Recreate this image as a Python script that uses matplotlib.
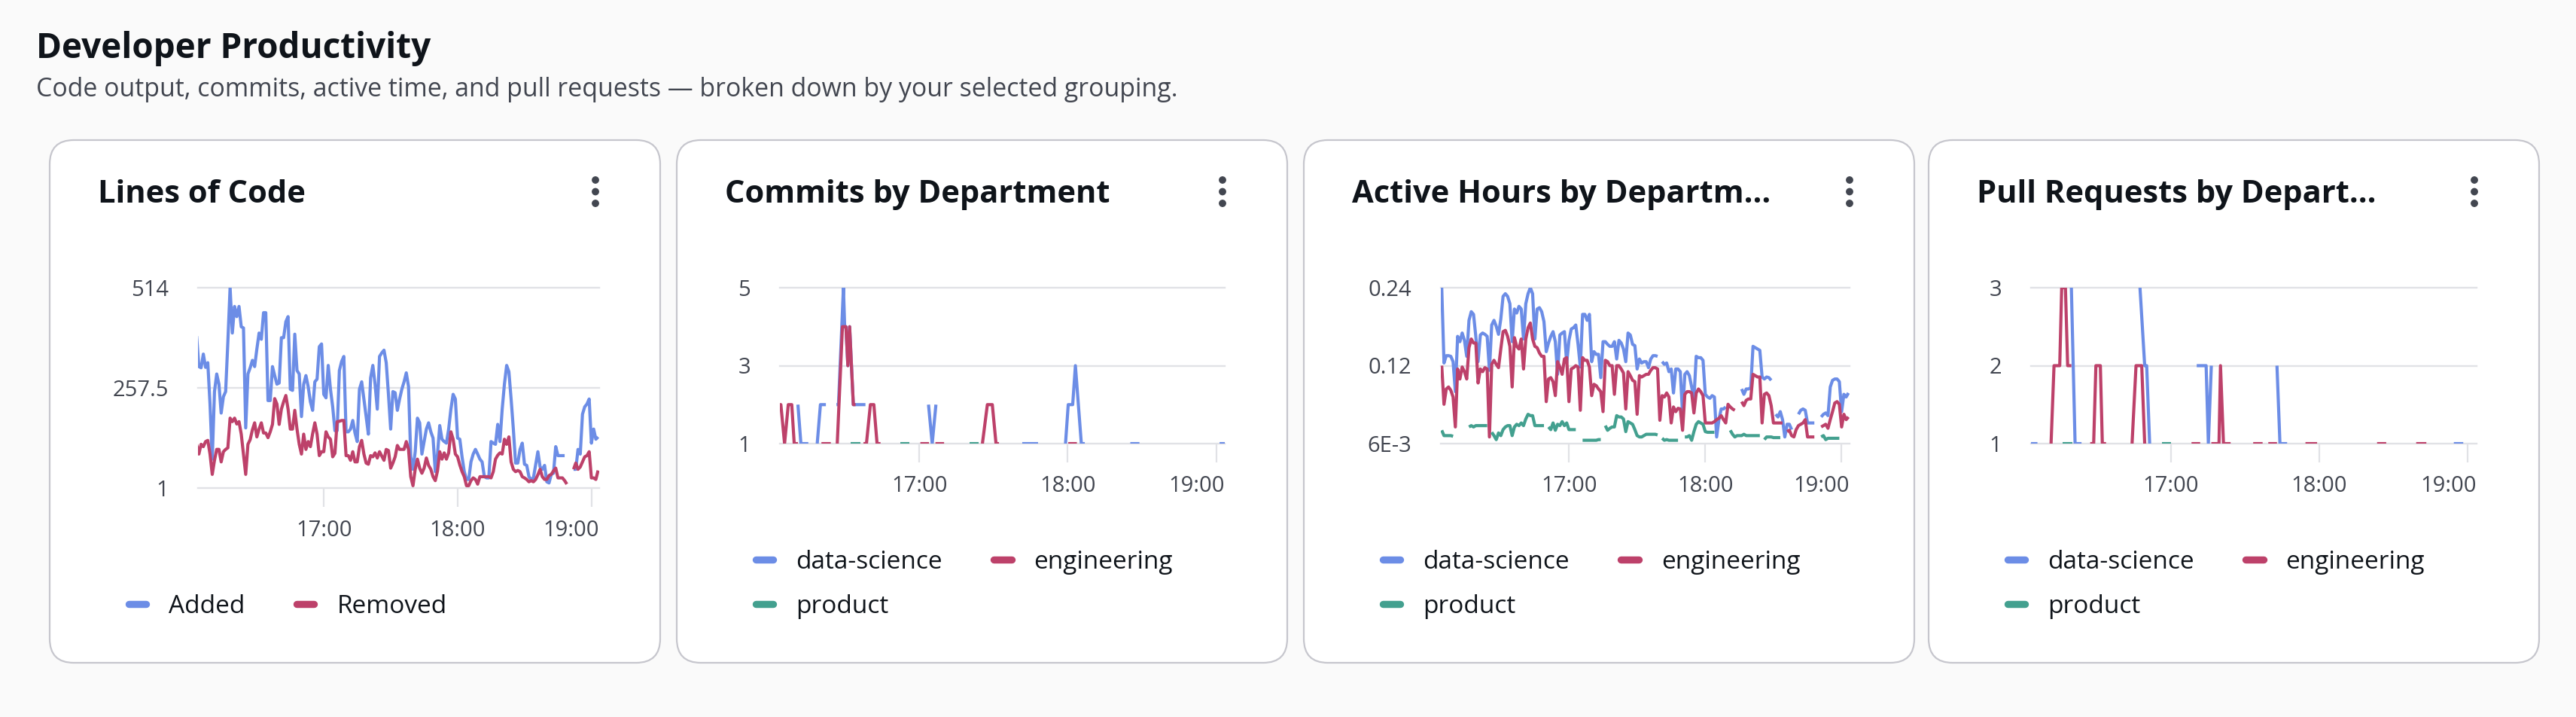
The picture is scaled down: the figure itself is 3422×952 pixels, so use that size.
import numpy as np
import pandas as pd
import matplotlib
matplotlib.use('Agg')
import matplotlib.pyplot as plt
import matplotlib.dates as mdates
from matplotlib.lines import Line2D
from matplotlib.patches import FancyBboxPatch, Circle

nan = np.nan

# ---------------- data (time = minutes after 16:00) ----------------
loc_minutes = list(range(3, 184))
loc_added = [
    390, 312, 309, 344, 310, 322, 216, 75, 248, 293,
    267, 193, 235, 248, 376, 514, 398, 466, 440, 466,
    414, 411, 155, 293, 309, 328, 312, 357, 398, 382,
    450, 450, 225, 225, 312, 289, 267, 270, 386, 386,
    427, 440, 254, 251, 395, 302, 293, 184, 267, 289,
    261, 222, 200, 273, 280, 363, 370, 241, 232, 315,
    254, 209, 148, 148, 302, 325, 338, 145, 145, 152,
    174, 142, 120, 254, 273, 229, 184, 139, 283, 315,
    267, 203, 338, 347, 354, 322, 241, 152, 248, 245,
    200, 229, 254, 273, 296, 261, 81, 49, 94, 180,
    168, 88, 120, 152, 168, 145, 129, 43, 88, 161,
    126, 120, 116, 152, 203, 241, 229, 129, 126, 81,
    43, 23, 23, 68, 88, 100, 88, 75, 68, 30,
    27, 27, 120, 116, 113, 164, 120, 203, 267, 315,
    299, 229, 152, 65, 65, 100, 116, 62, 59, 30,
    23, 27, 60, 94, 55, 49, 59, 17, 14, 36,
    39, 107, 84, 84, 84, 84, nan, nan, nan, 49,
    49, 100, 88, 190, 209, 216, 229, 116, 152, 126,
    132]
loc_removed = [
    113, 88, 113, 107, 120, 123, 88, 36, 72, 100,
    100, 68, 94, 100, 104, 180, 171, 180, 165, 171,
    139, 88, 36, 113, 125, 150, 168, 132, 152, 168,
    142, 142, 130, 145, 164, 230, 216, 164, 203, 222,
    238, 203, 152, 152, 200, 152, 113, 88, 139, 100,
    120, 107, 140, 168, 139, 84, 94, 94, 145, 132,
    126, 81, 90, 171, 172, 174, 174, 84, 84, 72,
    94, 68, 68, 107, 123, 88, 65, 62, 84, 81,
    91, 78, 94, 83, 72, 100, 97, 52, 65, 81,
    110, 100, 100, 100, 120, 100, 30, 7, 49, 75,
    52, 39, 52, 78, 59, 49, 30, 20, 45, 94,
    75, 91, 75, 91, 145, 126, 88, 81, 60, 43,
    30, 7, 7, 20, 27, 23, 11, 30, 30, 30,
    30, 30, 27, 43, 75, 85, 91, 88, 126, 113,
    132, 68, 49, 43, 46, 43, 30, 27, 23, 17,
    20, 17, 23, 35, 49, 30, 23, 23, 33, 36,
    45, 52, 27, 27, 27, 20, 11, nan, nan, 49,
    65, 49, 55, 68, 81, 84, 94, 27, 27, 23,
    46]

active_minutes = list(range(4, 184))
active_data_science = [
    0.240, 0.127, 0.138, 0.138, 0.137, 0.129, 0.084, 0.167, 0.159, 0.172,
    0.161, 0.137, 0.191, 0.204, 0.200, 0.167, 0.129, 0.169, 0.172, 0.170,
    0.167, 0.116, 0.184, 0.191, 0.182, 0.170, 0.193, 0.227, 0.231, 0.227,
    0.216, 0.159, 0.208, 0.202, 0.212, 0.208, 0.163, 0.216, 0.231, 0.240,
    0.231, 0.163, 0.208, 0.210, 0.204, 0.189, 0.144, 0.157, 0.167, 0.174,
    0.159, 0.110, 0.169, 0.172, 0.174, 0.127, 0.161, 0.178, 0.180, 0.184,
    0.155, 0.121, 0.200, 0.200, 0.191, 0.200, 0.129, 0.144, 0.140, 0.140,
    0.105, 0.159, 0.159, 0.155, 0.152, 0.152, 0.159, 0.133, 0.161, 0.157,
    0.148, 0.129, 0.172, 0.169, 0.155, 0.153, 0.118, 0.133, 0.127, 0.129,
    0.129, 0.120, 0.133, 0.138, 0.138, 0.137, nan, 0.129, 0.125, 0.127,
    0.114, 0.118, 0.082, 0.118, 0.118, 0.114, 0.050, 0.110, 0.114, 0.108,
    0.091, 0.073, 0.137, 0.135, 0.135, 0.131, 0.080, 0.076, 0.074, 0.078,
    0.076, 0.016, 0.042, 0.058, 0.058, 0.061, nan, nan, nan, nan,
    nan, nan, 0.088, 0.080, 0.088, 0.088, 0.090, 0.152, 0.150, 0.148,
    0.146, 0.106, 0.103, 0.106, 0.105, 0.101, nan, 0.050, 0.046, 0.054,
    0.042, 0.016, 0.035, 0.035, 0.027, nan, nan, 0.050, 0.056, 0.058,
    0.056, 0.037, 0.037, 0.037, 0.037, nan, nan, 0.046, 0.050, 0.052,
    0.048, 0.091, 0.101, 0.103, 0.103, 0.099, 0.054, 0.080, 0.076, 0.082]
active_engineering = [
    0.123, 0.065, 0.088, 0.091, 0.086, 0.076, 0.031, 0.118, 0.103, 0.121,
    0.114, 0.103, 0.150, 0.163, 0.157, 0.157, 0.097, 0.118, 0.114, 0.120,
    0.118, 0.016, 0.125, 0.131, 0.125, 0.120, 0.148, 0.174, 0.176, 0.167,
    0.152, 0.091, 0.165, 0.152, 0.148, 0.163, 0.118, 0.163, 0.180, 0.187,
    0.163, 0.152, 0.150, 0.142, 0.137, 0.137, 0.069, 0.103, 0.105, 0.099,
    0.078, 0.129, 0.121, 0.110, 0.133, 0.135, 0.069, 0.118, 0.120, 0.123,
    0.121, 0.056, 0.135, 0.131, 0.131, 0.121, 0.078, 0.095, 0.093, 0.088,
    0.084, 0.054, 0.131, 0.129, 0.123, 0.123, 0.080, 0.123, 0.123, 0.118,
    0.112, 0.058, 0.114, 0.108, 0.101, 0.099, 0.050, 0.108, 0.106, 0.108,
    0.110, 0.110, 0.116, 0.120, 0.120, 0.118, 0.041, 0.078, 0.076, 0.082,
    0.076, 0.037, 0.061, 0.054, 0.059, 0.058, 0.026, 0.080, 0.084, 0.084,
    0.082, 0.052, 0.082, 0.088, 0.084, 0.078, 0.037, 0.037, 0.037, 0.037,
    0.039, 0.042, 0.044, 0.048, 0.042, 0.037, 0.065, 0.061, 0.058, 0.056,
    nan, nan, 0.069, 0.063, 0.071, 0.073, 0.073, 0.110, 0.108, 0.106,
    0.106, 0.037, 0.080, 0.082, 0.078, 0.063, 0.037, 0.037, 0.037, 0.037,
    0.037, nan, 0.024, 0.026, 0.018, 0.016, 0.027, 0.033, 0.035, 0.037,
    0.042, 0.016, 0.016, 0.016, 0.016, nan, nan, 0.031, 0.033, 0.035,
    0.029, 0.042, 0.054, 0.067, 0.069, 0.065, 0.031, 0.050, 0.042, 0.046]
active_product = [
    0.026, 0.018, 0.018, 0.018, 0.018, 0.017, nan, nan, nan, nan,
    nan, nan, 0.031, 0.033, 0.031, 0.033, 0.033, 0.033, 0.033, 0.033,
    0.033, nan, 0.023, 0.018, 0.012, 0.022, 0.018, 0.027, 0.031, 0.033,
    0.033, 0.018, 0.031, 0.035, 0.033, 0.037, 0.033, 0.043, 0.050, 0.048,
    0.048, 0.033, 0.033, 0.033, 0.033, 0.033, nan, 0.031, 0.027, 0.037,
    0.026, 0.035, 0.033, 0.039, 0.033, 0.037, 0.027, 0.027, 0.027, 0.027,
    nan, nan, 0.011, 0.011, 0.011, 0.011, 0.011, 0.011, 0.011, 0.012,
    0.012, nan, 0.033, 0.026, 0.029, 0.031, 0.031, 0.048, 0.046, 0.046,
    0.043, 0.024, 0.039, 0.037, 0.035, 0.027, 0.018, 0.016, 0.016, 0.018,
    0.020, 0.020, 0.020, 0.020, 0.020, 0.019, nan, 0.014, 0.011, 0.012,
    0.011, 0.011, 0.011, 0.011, 0.011, nan, nan, 0.016, 0.016, 0.018,
    0.011, 0.024, 0.035, 0.039, 0.037, 0.035, 0.024, 0.023, 0.023, 0.023,
    0.023, nan, nan, nan, nan, nan, nan, 0.026, 0.020, 0.016,
    0.018, 0.018, 0.018, 0.020, 0.018, 0.018, 0.018, 0.018, 0.018, 0.018,
    0.018, nan, 0.012, 0.016, 0.016, 0.016, 0.015, 0.015, 0.015, 0.015,
    nan, nan, nan, nan, nan, nan, nan, nan, nan, nan,
    nan, nan, nan, nan, nan, nan, nan, 0.016, 0.018, 0.012,
    0.014, 0.014, 0.014, 0.014, 0.014, 0.014, nan, nan, nan, nan]

# sparse series: runs of (minute, value)
commits_data_science = [
    [(10.9, 2), (12.1, 1), (15.1, 1)],
    [(18.7, 1), (20.0, 2), (22.2, 2)],
    [(26.5, 2), (27.3, 2), (29.3, 5), (29.8, 4), (30.3, 4), (31.1, 3),
     (31.8, 4), (33.3, 2), (38.2, 2)],
    [(63.7, 2), (65.2, 1), (66.7, 2)],
    [(101.6, 1), (108.0, 1)],
    [(119.1, 1), (120.2, 2), (122.0, 2), (123.1, 3), (125.5, 1), (126.9, 1)],
    [(145.3, 1), (149.0, 1)],
    [(181.4, 1), (183.5, 1)],
]
commits_engineering = [
    [(3.5, 2), (4.0, 2), (5.5, 1), (7.0, 2), (8.4, 2), (9.4, 1), (10.9, 1)],
    [(20.4, 1), (24.2, 1)],
    [(26.8, 1), (28.9, 4), (30.3, 4), (31.1, 3), (31.8, 4), (33.3, 2), (34.2, 2)],
    [(37.4, 1), (38.6, 1), (40.2, 2), (41.6, 2), (42.9, 1), (44.3, 1)],
    [(60.4, 1), (63.9, 1)],
    [(66.5, 1), (70.0, 1)],
    [(85.5, 1), (87.5, 2), (89.5, 2), (91.0, 1), (92.2, 1)],
    [(120.2, 1), (123.7, 1)],
]
commits_product = [
    [(32.3, 1), (36.2, 1)],
    [(52.3, 1), (56.1, 1)],
    [(80.4, 1), (84.1, 1)],
]

prs_data_science = [
    [(3.5, 1), (6.2, 1)],
    [(19.9, 3), (21.4, 1), (24.0, 1)],
    [(47.6, 3), (49.5, 2), (50.3, 2), (51.5, 1)],
    [(70.5, 2), (74.3, 2), (75.2, 1), (76.4, 2)],
    [(102.9, 2), (104.1, 1), (107.0, 1)],
    [(174.3, 1), (178.1, 1)],
]
prs_engineering = [
    [(11.7, 1), (12.9, 2), (15.2, 2), (16.0, 3), (17.5, 3), (18.4, 2), (19.9, 2)],
    [(27.5, 1), (28.9, 1), (29.8, 2), (31.6, 2), (32.4, 1), (33.9, 1)],
    [(44.4, 1), (46.0, 2), (48.3, 2), (49.5, 1)],
    [(68.4, 1), (71.9, 1)],
    [(76.4, 1), (79.5, 1), (80.1, 2), (81.3, 1), (84.2, 1)],
    [(93.3, 1), (97.1, 1)],
    [(99.4, 1), (102.9, 1)],
    [(114.4, 1), (119.1, 1)],
    [(143.3, 1), (147.0, 1)],
    [(159.1, 1), (163.2, 1)],
]
prs_product = [
    [(16.4, 1), (20.2, 1)],
    [(56.5, 1), (60.0, 1)],
]

hour_minutes = [60, 120, 180]
hour_labels = ['17:00', '18:00', '19:00']
x_range = [3.6, 183.5]

# ---------------- style ----------------
W, H, DPI = 3422, 952, 100
PAGE = '#fafafa'
INK = '#0f141a'
SUB = '#424650'
GRID = '#e1e2e6'
BORDER = '#c6c6cd'
BLUE, RED, TEAL = '#6c8de6', '#bd416a', '#43a08f'

plt.rcParams['font.family'] = ['Open Sans', 'DejaVu Sans']

base = pd.Timestamp('2024-05-14 16:00')


def when(minutes):
    return (base + pd.to_timedelta(np.asarray(minutes, dtype=float), unit='min')).to_numpy()


def join(runs):
    t, v = [], []
    for run in runs:
        for a, b in run:
            t.append(a)
            v.append(b)
        t.append(run[-1][0])
        v.append(nan)
    return t, v


fig = plt.figure(figsize=(W / DPI, H / DPI), dpi=DPI)
fig.patch.set_facecolor(PAGE)

fig.text(48 / W, 1 - 77 / H, 'Developer Productivity', fontsize=33,
         fontweight='bold', color=INK, va='baseline')
fig.text(48 / W, 1 - 128 / H,
         'Code output, commits, active time, and pull requests \u2014 broken down by your selected grouping.',
         fontsize=24.4, color=SUB, va='baseline')

card_left = [66, 899, 1732, 2562]
card_w, card_top, card_bottom = 811, 186, 880
card_titles = ['Lines of Code', 'Commits by Department',
               'Active Hours by Departm\u2026', 'Pull Requests by Depart\u2026']

for cx, title in zip(card_left, card_titles):
    card = FancyBboxPatch((cx / DPI, (H - card_bottom) / DPI), card_w / DPI,
                          (card_bottom - card_top) / DPI,
                          boxstyle='round,pad=0,rounding_size=0.32',
                          transform=fig.dpi_scale_trans, facecolor='white',
                          edgecolor=BORDER, linewidth=1.6, zorder=-5)
    fig.add_artist(card)
    fig.text((cx + 64) / W, 1 - 269 / H, title, fontsize=30, fontweight='bold',
             color=INK, va='baseline')
    for dy in (239, 254.5, 270):
        fig.add_artist(Circle(((cx + card_w - 86) / DPI, (H - dy) / DPI), 4.2 / DPI,
                              transform=fig.dpi_scale_trans, color=SUB))


def panel(box, yticks, ylabels, lines):
    x0, y0, x1, y1 = box
    ax = fig.add_axes([x0 / W, 1 - y1 / H, (x1 - x0) / W, (y1 - y0) / H])
    ax.set_facecolor('none')
    for sp in ax.spines.values():
        sp.set_visible(False)
    for yv in yticks:
        ax.axhline(yv, color=GRID, lw=1.7, clip_on=False, zorder=1)
    for t, v, c in lines:
        ax.plot(when(t), v, color=c, lw=3.0, solid_joinstyle='round',
                solid_capstyle='butt', zorder=3)
    ax.set_xlim(when(x_range))
    ax.set_ylim(yticks[0], yticks[-1])
    ax.set_yticks(yticks, ylabels)
    ax.set_xticks(when(hour_minutes))
    ax.tick_params(axis='x', length=18, width=1.6, color=GRID, labelbottom=False)
    ax.tick_params(axis='y', length=0, pad=28, labelsize=21, labelcolor=SUB)
    for i, lab in enumerate(hour_labels):
        if i == len(hour_labels) - 1:
            ax.annotate(lab, xy=(1, 0), xycoords='axes fraction', xytext=(0, -41),
                        textcoords='offset points', ha='right', va='center',
                        fontsize=21, color=SUB)
        else:
            xd = mdates.date2num(when([hour_minutes[i]])[0])
            ax.annotate(lab, xy=(xd, 0), xycoords=('data', 'axes fraction'),
                        xytext=(0, -41), textcoords='offset points', ha='center',
                        va='center', fontsize=21, color=SUB)
    return ax


def legend(x_px, y_px, items):
    handles = [Line2D([], [], color=c, lw=6.8, solid_capstyle='round') for _, c in items]
    labels = [n for n, _ in items]
    fig.legend(handles, labels, loc='center left',
               bbox_to_anchor=(x_px / W, 1 - y_px / H), ncol=2, frameon=False,
               fontsize=24, handlelength=0.7, handletextpad=0.9,
               columnspacing=2.05, labelspacing=0.78, borderpad=0,
               borderaxespad=0, labelcolor=INK)


panel((263, 382, 796, 648), [1, 257.5, 514], ['1', '257.5', '514'],
      [(loc_minutes, loc_added, BLUE), (loc_minutes, loc_removed, RED)])
legend(card_left[0] + 105, 805, [('Added', BLUE), ('Removed', RED)])

t_ds, v_ds = join(commits_data_science)
t_en, v_en = join(commits_engineering)
t_pr, v_pr = join(commits_product)
panel((1036, 382, 1627, 589), [1, 3, 5], ['1', '3', '5'],
      [(t_ds, v_ds, BLUE), (t_en, v_en, RED), (t_pr, v_pr, TEAL)])

panel((1914, 382, 2457, 589), [0.006, 0.123, 0.24], ['6E-3', '0.12', '0.24'],
      [(active_minutes, active_data_science, BLUE),
       (active_minutes, active_engineering, RED),
       (active_minutes, active_product, TEAL)])

t_ds, v_ds = join(prs_data_science)
t_en, v_en = join(prs_engineering)
t_pr, v_pr = join(prs_product)
panel((2698, 382, 3290, 589), [1, 2, 3], ['1', '2', '3'],
      [(t_ds, v_ds, BLUE), (t_en, v_en, RED), (t_pr, v_pr, TEAL)])

dept_items = [('data-science', BLUE), ('product', TEAL), ('engineering', RED)]
for cx in card_left[1:]:
    legend(cx + 105, 776, dept_items)

fig.savefig('out.png', dpi=DPI, facecolor=fig.get_facecolor())
